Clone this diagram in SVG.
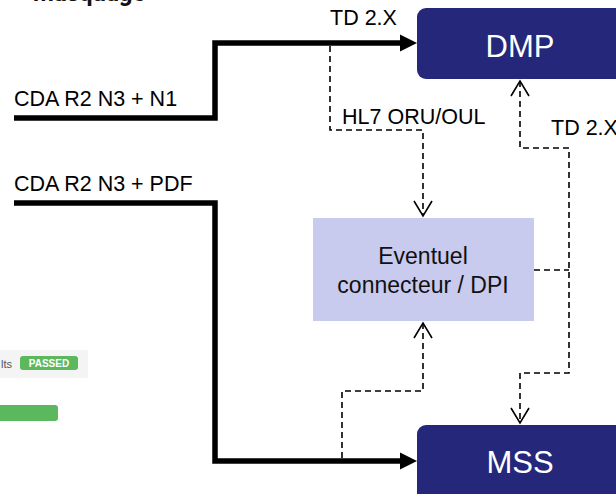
<svg xmlns="http://www.w3.org/2000/svg" width="616" height="494" viewBox="0 0 616 494">
  <style>
    .lbl { font-family: "Liberation Sans", Arial, sans-serif; font-size: 21.5px; fill: #000; }
    .node-dark { fill: #24277a; }
    .node-light { fill: #c8caee; }
    .node-title { font-family: "Liberation Sans", Arial, sans-serif; font-size: 31px; fill: #fff; text-anchor: middle; }
    .node-text { font-family: "Liberation Sans", Arial, sans-serif; font-size: 23px; fill: #111; text-anchor: middle; }
    .thick { fill: none; stroke: #000; stroke-width: 5.5; }
    .dash { fill: none; stroke: #000; stroke-width: 1.6; stroke-dasharray: 6 4; }
  </style>
  <defs>
    <marker id="solidArrow" markerWidth="18" markerHeight="18" refX="2" refY="9" orient="auto" markerUnits="userSpaceOnUse">
      <path d="M0,0.5 L17,9 L0,17.5 Z" fill="#000"/>
    </marker>
    <marker id="openArrow" markerWidth="18" markerHeight="22" refX="16" refY="10" orient="auto-start-reverse" markerUnits="userSpaceOnUse">
      <path d="M1,1 L16,10 L1,19" fill="none" stroke="#000" stroke-width="1.6"/>
    </marker>
  </defs>

  <rect width="616" height="494" fill="#fff"/>

  <!-- cropped heading at top edge -->
  <text x="33" y="1" font-family="Roboto, 'Liberation Sans', sans-serif" font-size="24" font-weight="bold" fill="#111">masquage</text>

  <!-- partial status panel on the left -->
  <g id="status-panel">
    <rect x="-4" y="350" width="92" height="28" fill="#f4f4f4"/>
    <text x="1" y="368" font-family="'Liberation Sans', Arial, sans-serif" font-size="11" fill="#555">lts</text>
    <rect x="20" y="356" width="58" height="14" rx="3" fill="#5cb85c"/>
    <text x="49" y="367" font-family="'Liberation Sans', Arial, sans-serif" font-size="10" font-weight="bold" fill="#fff" text-anchor="middle">PASSED</text>
    <rect x="-6" y="405" width="64" height="16" rx="3" fill="#5cb85c"/>
  </g>

  <!-- connectors -->
  <g id="connectors">
    <path class="thick" d="M14,118 H215 V43 H402" marker-end="url(#solidArrow)"/>
    <path class="thick" d="M14,203 H215 V461 H402" marker-end="url(#solidArrow)"/>
    <!-- HL7 from the DMP feed down to the connector -->
    <path class="dash" d="M330,46 V130 H423 V216" marker-end="url(#openArrow)"/>
    <!-- MSS feed up to the connector -->
    <path class="dash" d="M342,458 V391 H423 V323" marker-end="url(#openArrow)"/>
    <!-- connector to DMP and MSS -->
    <path class="dash" d="M520,81 V148 H569 V373 H520 V423" marker-start="url(#openArrow)" marker-end="url(#openArrow)"/>
    <path class="dash" d="M534,270 H569"/>
  </g>

  <!-- connector labels -->
  <text class="lbl" x="330" y="25">TD 2.X</text>
  <text class="lbl" x="342" y="124">HL7 ORU/OUL</text>
  <text class="lbl" x="551" y="135">TD 2.X</text>
  <text class="lbl" x="14" y="106">CDA R2 N3 + N1</text>
  <text class="lbl" x="14" y="191">CDA R2 N3 + PDF</text>

  <g id="dmp">
    <rect class="node-dark" x="417" y="8" width="220" height="71" rx="9"/>
    <text class="node-title" x="520" y="57">DMP</text>
  </g>

  <g id="connecteur">
    <rect class="node-light" x="313" y="218" width="221" height="103"/>
    <text class="node-text" x="423" y="264">Eventuel</text>
    <text class="node-text" x="423" y="293">connecteur / DPI</text>
  </g>

  <g id="mss">
    <rect class="node-dark" x="417" y="425" width="220" height="80" rx="9"/>
    <text class="node-title" x="520" y="473">MSS</text>
  </g>
</svg>
